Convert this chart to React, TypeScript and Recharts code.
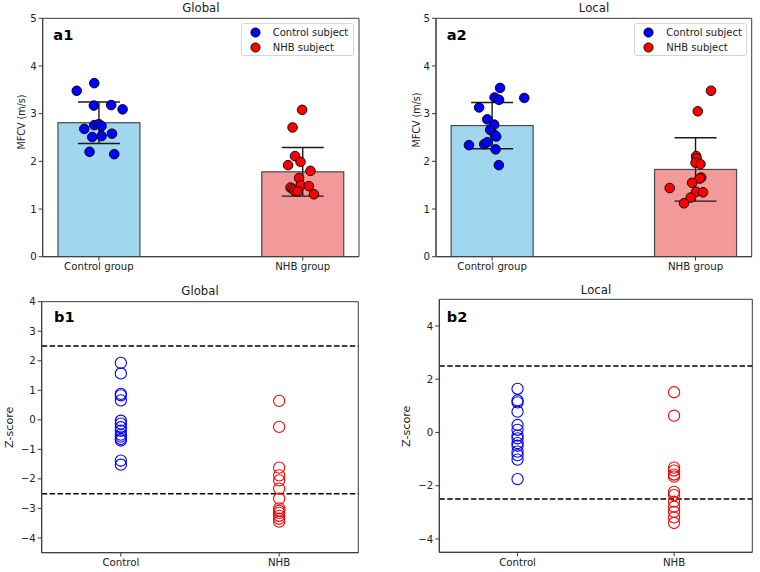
import React from 'react';
import {
  ComposedChart,
  Bar,
  ErrorBar,
  Scatter,
  XAxis,
  YAxis,
  ReferenceLine,
  ReferenceArea,
  Legend,
} from 'recharts';

const FONT = '"DejaVu Sans", Verdana, sans-serif';

// Category labels
const groupLabels = ['Control group', 'NHB group'];
const shortLabels = ['Control', 'NHB'];

// MFCV (m/s): group means and standard deviations
const globalMeans = [2.81, 1.78];
const globalSd = [0.435, 0.51];
const localMeans = [2.75, 1.83];
const localSd = [0.485, 0.665];

// Individual subjects, global MFCV (value + horizontal jitter)
const globalControlMfcv = [3.48, 3.64, 3.17, 3.18, 3.09, 2.68, 2.76, 2.78, 2.74, 2.58, 2.51, 2.53, 2.2, 2.15];
const globalControlJitter = [-0.109, -0.023, -0.025, 0.06, 0.116, -0.072, -0.023, 0.0, 0.013, 0.064, -0.033, 0.013, -0.046, 0.075];
const globalNhbMfcv = [3.08, 2.71, 2.11, 1.99, 1.92, 1.8, 1.65, 1.5, 1.48, 1.45, 1.42, 1.38, 1.37, 1.31];
const globalNhbJitter = [-0.003, -0.05, -0.038, -0.011, -0.072, 0.038, -0.018, -0.01, 0.03, -0.06, -0.05, -0.04, -0.025, 0.055];

// Individual subjects, local MFCV
const localControlMfcv = [3.54, 3.34, 3.29, 3.33, 3.13, 2.88, 2.77, 2.66, 2.55, 2.52, 2.34, 2.36, 2.4, 2.25, 1.92];
const localControlJitter = [0.039, 0.012, 0.034, 0.158, -0.064, -0.024, 0.01, -0.01, 0.013, 0.02, -0.114, -0.039, -0.024, 0.017, 0.033];
const localNhbMfcv = [3.48, 3.05, 2.11, 2.06, 1.97, 1.94, 1.66, 1.64, 1.55, 1.44, 1.36, 1.35, 1.24, 1.12];
const localNhbJitter = [0.076, 0.011, 0.003, 0.005, 0.0, 0.024, 0.028, 0.02, -0.017, -0.127, 0.003, 0.037, -0.024, -0.057];

// Z-scores
const globalControlZ = [1.93, 1.57, 0.88, 0.83, 0.66, -0.03, -0.13, -0.25, -0.37, -0.5, -0.57, -0.65, -0.7, -1.38, -1.52];
const globalNhbZ = [0.64, -0.24, -1.62, -1.88, -2.05, -2.33, -2.67, -3.0, -3.08, -3.15, -3.25, -3.35, -3.45];
const localControlZ = [1.64, 1.2, 1.13, 0.78, 0.28, 0.1, -0.12, -0.22, -0.4, -0.5, -0.72, -0.85, -1.02, -1.75];
const localNhbZ = [1.51, 0.63, -1.32, -1.43, -1.58, -1.66, -2.23, -2.35, -2.6, -2.79, -2.98, -3.19, -3.4];

const zThreshold = 2.5;

const mfcvTicks = [0, 1, 2, 3, 4, 5];
const globalZTicks = [-4, -3, -2, -1, 0, 1, 2, 3, 4];
const localZTicks = [-4, -2, 0, 2, 4];

const barRows = (means: number[], sds: number[]) =>
  means.map((m, i) => ({ pos: i, mean: m, sd: sds[i] }));
const pointRows = (vals: number[], pos: number, jitter?: number[]) =>
  vals.map((v, i) => ({ pos: pos + (jitter ? jitter[i] : 0), val: v }));

const fmtNum = (v: number) => String(v).replace('-', '\u2212');

const Y_W = 40;
const X_H = 24;
const BAR_W = 82;
const AXIS_COLOR = '#3a3a3a';
const TEXT_COLOR = '#222';
const tickStyle = { fill: TEXT_COLOR, fontSize: 10.2, fontFamily: FONT };

type Frame = {
  left: number;
  top: number;
  width: number;
  height: number;
  plotLeft: number;
  plotTop: number;
  plotRight: number;
  plotBottom: number;
};

const marginOf = (f: Frame) => ({
  left: f.plotLeft - Y_W,
  top: f.plotTop,
  right: f.width - f.plotRight,
  bottom: f.height - f.plotBottom - X_H,
});

const FilledDot = (props: any) => (
  <circle cx={props.cx} cy={props.cy} r={4.8} fill={props.fill} stroke="#000" strokeWidth={0.9} />
);

const OpenDot = (props: any) => (
  <circle cx={props.cx} cy={props.cy} r={5.6} fill="none" stroke={props.fill} strokeWidth={1.1} />
);

// Bar body centred on the category position
const GroupBar = (p: any) => {
  const cx = p.x + p.width / 2;
  return (
    <rect
      x={cx - BAR_W / 2}
      y={p.y}
      width={BAR_W}
      height={p.height}
      fill={p.payload.pos === 0 ? '#a0d7ee' : '#f29a9a'}
      stroke="#4a4a4a"
      strokeWidth={1.2}
    />
  );
};

const LegendBox = (props: any) => {
  const items = (props.payload || []).filter((e: any) => e.type !== 'none');
  return (
    <div
      style={{
        boxSizing: 'border-box',
        width: 113,
        height: 33,
        border: '1px solid #d6d6d6',
        borderRadius: 3,
        background: '#fff',
        paddingTop: 1,
        fontFamily: FONT,
        fontSize: 10,
        color: TEXT_COLOR,
      }}
    >
      {items.map((e: any) => (
        <div key={e.value} style={{ display: 'flex', alignItems: 'center', height: 15 }}>
          <svg width={31} height={15} style={{ flex: 'none' }}>
            <circle cx={13.5} cy={7.5} r={4.6} fill={e.color} stroke="#000" strokeWidth={0.9} />
          </svg>
          <span style={{ whiteSpace: 'nowrap' }}>{e.value}</span>
        </div>
      ))}
    </div>
  );
};

type MfcvProps = {
  frame: Frame;
  means: number[];
  sds: number[];
  control: { pos: number; val: number }[];
  nhb: { pos: number; val: number }[];
  legendLeft: number;
};

const MFCV_X: [number, number] = [-0.276, 1.276];
const MFCV_Y: [number, number] = [0, 5];

const MfcvPanel = ({ frame, means, sds, control, nhb, legendLeft }: MfcvProps) => (
  <div style={{ position: 'absolute', left: frame.left, top: frame.top }}>
    <ComposedChart
      width={frame.width}
      height={frame.height}
      data={barRows(means, sds)}
      margin={marginOf(frame)}
    >
      <XAxis
        type="number"
        dataKey="pos"
        domain={MFCV_X}
        ticks={[0, 1]}
        interval={0}
        allowDataOverflow
        tickFormatter={(v: number) => groupLabels[Math.round(v)]}
        height={X_H}
        tickSize={4}
        tickMargin={2}
        stroke={AXIS_COLOR}
        tick={tickStyle}
      />
      <YAxis
        type="number"
        domain={MFCV_Y}
        ticks={mfcvTicks}
        interval={0}
        allowDataOverflow
        width={Y_W}
        tickSize={4}
        tickMargin={2}
        stroke={AXIS_COLOR}
        tick={tickStyle}
      />
      <Bar
        dataKey="mean"
        barSize={BAR_W}
        legendType="none"
        isAnimationActive={false}
        shape={GroupBar}
      >
        <ErrorBar dataKey="sd" width={21} stroke="#1a1a1a" strokeWidth={1.4} direction="y" />
      </Bar>
      <Scatter
        name="Control subject"
        data={control}
        dataKey="val"
        fill="#0000ff"
        shape={FilledDot}
        isAnimationActive={false}
      />
      <Scatter
        name="NHB subject"
        data={nhb}
        dataKey="val"
        fill="#ff0000"
        shape={FilledDot}
        isAnimationActive={false}
      />
      <ReferenceArea
        x1={MFCV_X[0]}
        x2={MFCV_X[1]}
        y1={MFCV_Y[0]}
        y2={MFCV_Y[1]}
        fill="none"
        fillOpacity={0}
        stroke={AXIS_COLOR}
        strokeWidth={1}
        ifOverflow="visible"
      />
      <Legend
        layout="horizontal"
        verticalAlign="middle"
        align="center"
        wrapperStyle={{ left: legendLeft, top: 23, width: 113, height: 33 }}
        content={LegendBox}
      />
    </ComposedChart>
  </div>
);

type ZProps = {
  frame: Frame;
  control: number[];
  nhb: number[];
  domain: [number, number];
  ticks: number[];
};

const Z_X: [number, number] = [-0.5, 1.5];

const ZPanel = ({ frame, control, nhb, domain, ticks }: ZProps) => (
  <div style={{ position: 'absolute', left: frame.left, top: frame.top }}>
    <ComposedChart width={frame.width} height={frame.height} margin={marginOf(frame)}>
      <XAxis
        type="number"
        dataKey="pos"
        domain={Z_X}
        ticks={[0, 1]}
        interval={0}
        allowDataOverflow
        tickFormatter={(v: number) => shortLabels[Math.round(v)]}
        height={X_H}
        tickSize={4}
        tickMargin={2}
        stroke={AXIS_COLOR}
        tick={tickStyle}
      />
      <YAxis
        type="number"
        domain={domain}
        ticks={ticks}
        interval={0}
        allowDataOverflow
        width={Y_W}
        tickSize={4}
        tickMargin={2}
        stroke={AXIS_COLOR}
        tick={tickStyle}
        tickFormatter={fmtNum}
      />
      <ReferenceLine y={zThreshold} stroke="#000" strokeWidth={1.5} strokeDasharray="5.5 2.4" />
      <ReferenceLine y={-zThreshold} stroke="#000" strokeWidth={1.5} strokeDasharray="5.5 2.4" />
      <Scatter
        data={pointRows(control, 0)}
        dataKey="val"
        fill="#0000ff"
        shape={OpenDot}
        isAnimationActive={false}
      />
      <Scatter
        data={pointRows(nhb, 1)}
        dataKey="val"
        fill="#ff0000"
        shape={OpenDot}
        isAnimationActive={false}
      />
      <ReferenceArea
        x1={Z_X[0]}
        x2={Z_X[1]}
        y1={domain[0]}
        y2={domain[1]}
        fill="none"
        fillOpacity={0}
        stroke={AXIS_COLOR}
        strokeWidth={1}
        ifOverflow="visible"
      />
    </ComposedChart>
  </div>
);

const frameA1: Frame = { left: 0, top: 0, width: 380, height: 286, plotLeft: 42.7, plotTop: 18.3, plotRight: 359, plotBottom: 256.7 };
const frameA2: Frame = { left: 380, top: 0, width: 380, height: 286, plotLeft: 56, plotTop: 18.3, plotRight: 371.7, plotBottom: 256.7 };
const frameB1: Frame = { left: 0, top: 286, width: 380, height: 286, plotLeft: 41.7, plotTop: 15.7, plotRight: 358.3, plotBottom: 266.7 };
const frameB2: Frame = { left: 380, top: 286, width: 380, height: 286, plotLeft: 59.3, plotTop: 13.3, plotRight: 372.3, plotBottom: 266.3 };

const Texts = () => (
  <svg
    width={760}
    height={572}
    style={{ position: 'absolute', left: 0, top: 0, pointerEvents: 'none' }}
    fontFamily={FONT}
    fill={TEXT_COLOR}
  >
    <text x={200.9} y={12.3} fontSize={11.7} textAnchor="middle">Global</text>
    <text x={594} y={12.3} fontSize={11.7} textAnchor="middle">Local</text>
    <text x={200} y={294.5} fontSize={11.7} textAnchor="middle">Global</text>
    <text x={596} y={294} fontSize={11.7} textAnchor="middle">Local</text>

    <text x={53.3} y={40} fontSize={14.6} fontWeight="bold" fill="#000">a1</text>
    <text x={446.7} y={39.5} fontSize={14.6} fontWeight="bold" fill="#000">a2</text>
    <text x={54} y={321.7} fontSize={14.6} fontWeight="bold" fill="#000">b1</text>
    <text x={446.7} y={321.7} fontSize={14.6} fontWeight="bold" fill="#000">b2</text>

    <text transform="translate(25,122) rotate(-90)" fontSize={9.6} textAnchor="middle">MFCV  (m/s)</text>
    <text transform="translate(420,120) rotate(-90)" fontSize={9.6} textAnchor="middle">MFCV  (m/s)</text>
    <text transform="translate(12.5,427.3) rotate(-90)" fontSize={11.2} textAnchor="middle">Z-score</text>
    <text transform="translate(409.5,426.3) rotate(-90)" fontSize={11.2} textAnchor="middle">Z-score</text>
  </svg>
);

export default function App() {
  return (
    <div style={{ position: 'absolute', left: 0, top: 0, width: 760, height: 572, background: '#fff', overflow: 'hidden' }}>
      <MfcvPanel
        frame={frameA1}
        means={globalMeans}
        sds={globalSd}
        control={pointRows(globalControlMfcv, 0, globalControlJitter)}
        nhb={pointRows(globalNhbMfcv, 1, globalNhbJitter)}
        legendLeft={240.7}
      />
      <MfcvPanel
        frame={frameA2}
        means={localMeans}
        sds={localSd}
        control={pointRows(localControlMfcv, 0, localControlJitter)}
        nhb={pointRows(localNhbMfcv, 1, localNhbJitter)}
        legendLeft={254.3}
      />
      <ZPanel frame={frameB1} control={globalControlZ} nhb={globalNhbZ} domain={[-4.5, 4]} ticks={globalZTicks} />
      <ZPanel frame={frameB2} control={localControlZ} nhb={localNhbZ} domain={[-4.5, 5]} ticks={localZTicks} />
      <Texts />
    </div>
  );
}
